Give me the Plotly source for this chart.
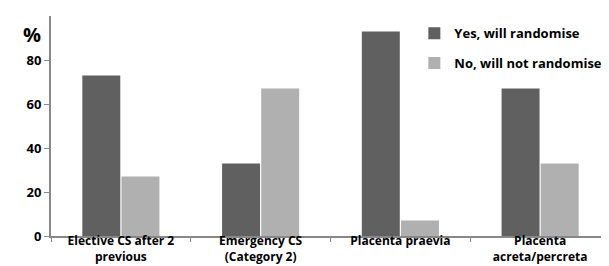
import plotly.graph_objects as go

categories = ["Elective CS after 2<br>previous", "Emergency CS<br>(Category 2)",
              "Placenta praevia", "Placenta<br>acreta/percreta"]
yes_vals = [73, 33, 93, 67]
no_vals = [27, 67, 7, 33]
series_names = ["Yes, will randomise", "No, will not randomise"]
y_ticks = [0, 20, 40, 60, 80]

FONT = "Open Sans"

fig = go.Figure()
fig.add_trace(go.Bar(x=categories, y=yes_vals, name=series_names[0],
                     marker=dict(color="#606060", line=dict(width=0)),
                     legendgroup="a"))
fig.add_trace(go.Bar(x=categories, y=no_vals, name=series_names[1],
                     marker=dict(color="#b0b0b0", line=dict(width=0)),
                     legendgroup="b"))

fig.update_layout(
    width=609, height=266,
    margin=dict(l=43, r=7, t=8, b=38, autoexpand=False),
    paper_bgcolor="white", plot_bgcolor="white",
    barmode="group", bargap=0.44, bargroupgap=0.03,
    font=dict(family=FONT, color="black", size=13),
    legend=dict(x=0.65, y=0.99, xanchor="left", yanchor="top",
                font=dict(family=FONT, size=13, color="black", weight="bold"),
                bgcolor="rgba(0,0,0,0)", tracegroupgap=10, itemwidth=30),
    showlegend=True,
)
fig.update_yaxes(range=[0, 100], tickvals=y_ticks, ticktext=[str(v) for v in y_ticks],
                 showline=True, linecolor="#888888", linewidth=2,
                 ticks="outside", ticklen=5, tickcolor="#888888",
                 showgrid=False, zeroline=False, automargin=False,
                 tickfont=dict(family=FONT, size=13, weight="bold"))
fig.update_xaxes(showline=True, linecolor="#888888", linewidth=2,
                 ticks="outside", ticklen=4, tickcolor="#888888",
                 tickson="boundaries", showgrid=False, automargin=False,
                 ticklabelstandoff=-7,
                 tickfont=dict(family=FONT, size=12, weight="bold"))
fig.add_annotation(text="%", x=0, y=1.0, xref="paper", yref="paper",
                   xshift=-30, yshift=-3, showarrow=False, xanchor="left", yanchor="top",
                   font=dict(family=FONT, size=20, weight="bold"))

fig.write_html("out.html")
